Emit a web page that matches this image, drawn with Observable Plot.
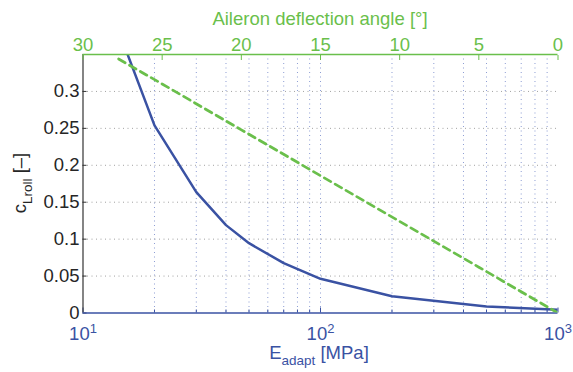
<!DOCTYPE html>
<html>
<head>
<meta charset="utf-8">
<script src="https://cdn.jsdelivr.net/npm/d3@7"></script>
<script src="https://cdn.jsdelivr.net/npm/@observablehq/plot@0.6"></script>
<style>
  html, body { margin: 0; padding: 0; background: #fff; }
  #wrap { position: relative; width: 573px; height: 372px; }
  #wrap svg { position: absolute; left: 0; top: 0; }
</style>
</head>
<body>
<div id="wrap"></div>
<script>
// ---- data ----
const E = [15, 20, 30, 40, 50, 70, 100, 200, 500, 1000];            // E_adapt [MPa]
const cLroll = [0.36, 0.254, 0.1636, 0.119, 0.0945, 0.0675, 0.0463, 0.0228, 0.0088, 0.0043];
const angle = [0, 5, 10, 15, 20, 25, 28];                            // aileron deflection [deg]
const cLrollAngle = [0, 0.062, 0.124, 0.186, 0.248, 0.31, 0.347];
const eTicks = [10, 100, 1000];
const eMinor = [20, 30, 40, 50, 60, 70, 80, 90, 200, 300, 400, 500, 600, 700, 800, 900];
const eGrid = [20, 30, 40, 50, 60, 70, 80, 90, 100, 200, 300, 400, 500, 600, 700, 800, 900];
const yTicks = [0, 0.05, 0.1, 0.15, 0.2, 0.25, 0.3];
const angleTicks = [30, 25, 20, 15, 10, 5, 0];
const yMax = 0.35;

// ---- style ----
const BLUE = "#3a52a3";
const GREEN = "#6abf4b";
const FONT = "'Liberation Sans', Arial, Helvetica, sans-serif";
const W = 573, H = 372;
const margins = {marginTop: 54, marginRight: 15.5, marginBottom: 59.5, marginLeft: 82.5};
const style = {fontFamily: FONT, fontSize: "18.5px", background: "transparent", overflow: "visible"};

const blueData = E.map((e, i) => ({e, c: cLroll[i]}));
const greenData = angle.map((a, i) => ({a, c: cLrollAngle[i]}));

// Bottom (log E) chart
const svg1 = Plot.plot({
  width: W, height: H, ...margins, style,
  x: {type: "log", domain: [10, 1000]},
  y: {domain: [0, yMax]},
  marks: [
    Plot.gridX(eGrid, {stroke: "#7084c8", strokeOpacity: 0.8, strokeDasharray: "1,3.5", strokeWidth: 1}),
    Plot.gridY(yTicks.filter(d => d > 0), {stroke: "#8a8a8a", strokeOpacity: 0.8, strokeDasharray: "1,3.5", strokeWidth: 1}),
    Plot.axisY(yTicks, {anchor: "left", tickSize: 0, tickPadding: 3.5, tickFormat: d => String(d), color: "#262626", label: null}),
    Plot.axisY(yTicks, {anchor: "left", tickSize: -4, fill: "none", stroke: "#333", label: null}),
    Plot.axisX(eTicks, {anchor: "bottom", tickSize: 0, tickPadding: 13.5, tickFormat: () => "10", color: BLUE, label: null}),
    Plot.axisX(eTicks, {anchor: "bottom", tickSize: -5, fill: "none", stroke: BLUE, label: null}),
    Plot.axisX(eMinor, {anchor: "bottom", tickSize: -3, fill: "none", stroke: BLUE, label: null}),
    Plot.ruleX([10], {stroke: "#333", strokeWidth: 1.2}),
    Plot.ruleY([0], {stroke: BLUE, strokeWidth: 1.6}),
    Plot.line(blueData, {x: "e", y: "c", stroke: BLUE, strokeWidth: 2.5, clip: true})
  ]
});

// Top (linear angle) chart overlaid with the same frame
const svg2 = Plot.plot({
  width: W, height: H, ...margins, style,
  x: {domain: [30, 0]},
  y: {domain: [0, yMax], axis: null},
  marks: [
    Plot.axisX(angleTicks, {anchor: "top", tickSize: 0, tickPadding: 3.5, tickFormat: d => String(d), color: GREEN, label: null}),
    Plot.axisX(angleTicks, {anchor: "top", tickSize: -5, fill: "none", stroke: GREEN, label: null}),
    Plot.ruleY([yMax], {stroke: GREEN, strokeWidth: 1.4}),
    Plot.line(greenData, {x: "a", y: "c", stroke: GREEN, strokeWidth: 2.7, strokeDasharray: "7.5,5", clip: true})
  ]
});

const wrap = document.getElementById("wrap");
wrap.appendChild(svg1);
wrap.appendChild(svg2);

// superscripts on the log tick labels
d3.select(svg1).selectAll('g[aria-label="x-axis tick label"] text').each(function(_, i) {
  const t = d3.select(this);
  const exp = Math.round(Math.log10(eTicks[i]));
  t.append("tspan").attr("dy", "-0.5em").attr("font-size", "13px").text(String(exp));
});

// axis titles
const s = d3.select(svg2);
s.append("text")
  .attr("x", 320).attr("y", 25).attr("text-anchor", "middle")
  .attr("fill", GREEN).attr("font-family", FONT).attr("font-size", "18.5px")
  .text("Aileron deflection angle [°]");

const xl = s.append("text")
  .attr("x", 319).attr("y", 359).attr("text-anchor", "middle")
  .attr("fill", BLUE).attr("font-family", FONT).attr("font-size", "18.5px");
xl.append("tspan").text("E");
xl.append("tspan").attr("font-size", "13.5px").attr("dy", "6").text("adapt");
xl.append("tspan").attr("dy", "-6").text(" [MPa]");

const yl = s.append("text")
  .attr("transform", "translate(26,183) rotate(-90)").attr("text-anchor", "middle")
  .attr("fill", "#262626").attr("font-family", FONT).attr("font-size", "18.5px");
yl.append("tspan").text("c");
yl.append("tspan").attr("font-size", "13.5px").attr("dy", "6").text("Lroll");
yl.append("tspan").attr("dy", "-6").text(" [–]");
</script>
</body>
</html>
